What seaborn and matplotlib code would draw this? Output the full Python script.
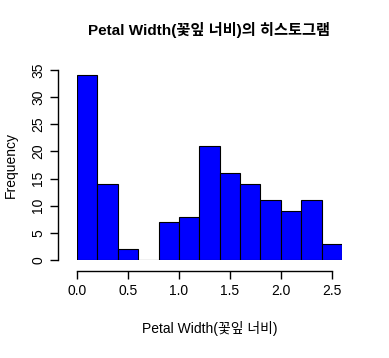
import numpy as np
import matplotlib
matplotlib.use("Agg")
import matplotlib.pyplot as plt
import seaborn as sns

bin_edges = [0.0, 0.2, 0.4, 0.6, 0.8, 1.0, 1.2, 1.4, 1.6, 1.8, 2.0, 2.2, 2.4, 2.6]
counts = [34, 14, 2, 0, 7, 8, 21, 16, 14, 11, 9, 11, 3]
x_ticks = [0.0, 0.5, 1.0, 1.5, 2.0, 2.5]
y_ticks = [0, 5, 10, 15, 20, 25, 30, 35]

sns.set_style("white")
plt.rcParams['font.family'] = ['Liberation Sans', 'Noto Sans CJK KR']
for k in ['text.color', 'axes.labelcolor', 'xtick.color', 'ytick.color']:
    plt.rcParams[k] = 'black'

fig = plt.figure(figsize=(3.89, 3.58), dpi=100)
W, H = 389, 358
ax = fig.add_axes([77 / W, 1 - 260 / H, (342 - 77) / W, (260 - 70) / H])

centers = [(a + b) / 2 for a, b in zip(bin_edges[:-1], bin_edges[1:])]
sns.histplot(x=centers, weights=counts, bins=bin_edges, color="#0000FF",
             edgecolor="black", linewidth=0.8, alpha=1, ax=ax)

ax.set_xlim(0, 2.6)
ax.set_ylim(0, 35)
ax.set_xticks(x_ticks)
ax.set_xticklabels([f"{v:.1f}" for v in x_ticks], fontsize=10)
ax.set_yticks(y_ticks)
ax.set_yticklabels([str(v) for v in y_ticks], fontsize=10)

for s in ["top", "right"]:
    ax.spines[s].set_visible(False)
ax.spines["left"].set_position(("outward", 14))
ax.spines["bottom"].set_position(("outward", 8))
ax.spines["left"].set_bounds(0, 35)
ax.spines["bottom"].set_bounds(0, 2.5)
for s in ["left", "bottom"]:
    ax.spines[s].set_color("black")
    ax.spines[s].set_linewidth(1)
ax.tick_params(axis="both", direction="out", length=6, width=1, color="black",
               left=True, bottom=True, pad=3)
for lbl in ax.get_yticklabels():
    lbl.set_rotation(90)
    lbl.set_va("center")

ax.set_xlabel("Petal Width(꽃잎 너비)", fontsize=10)
ax.set_ylabel("Frequency", fontsize=10)
ax.xaxis.set_label_coords(0.5, (260 - 336) / 190)
ax.yaxis.set_label_coords((4 - 77) / 265, 0.5)
ax.xaxis.label.set_va("bottom")
ax.yaxis.label.set_va("top")
ax.set_title("Petal Width(꽃잎 너비)의 히스토그램", fontsize=11, fontweight="bold",
             y=(260 - 43) / 190)

fig.savefig("out.png", dpi=100, facecolor="white")
